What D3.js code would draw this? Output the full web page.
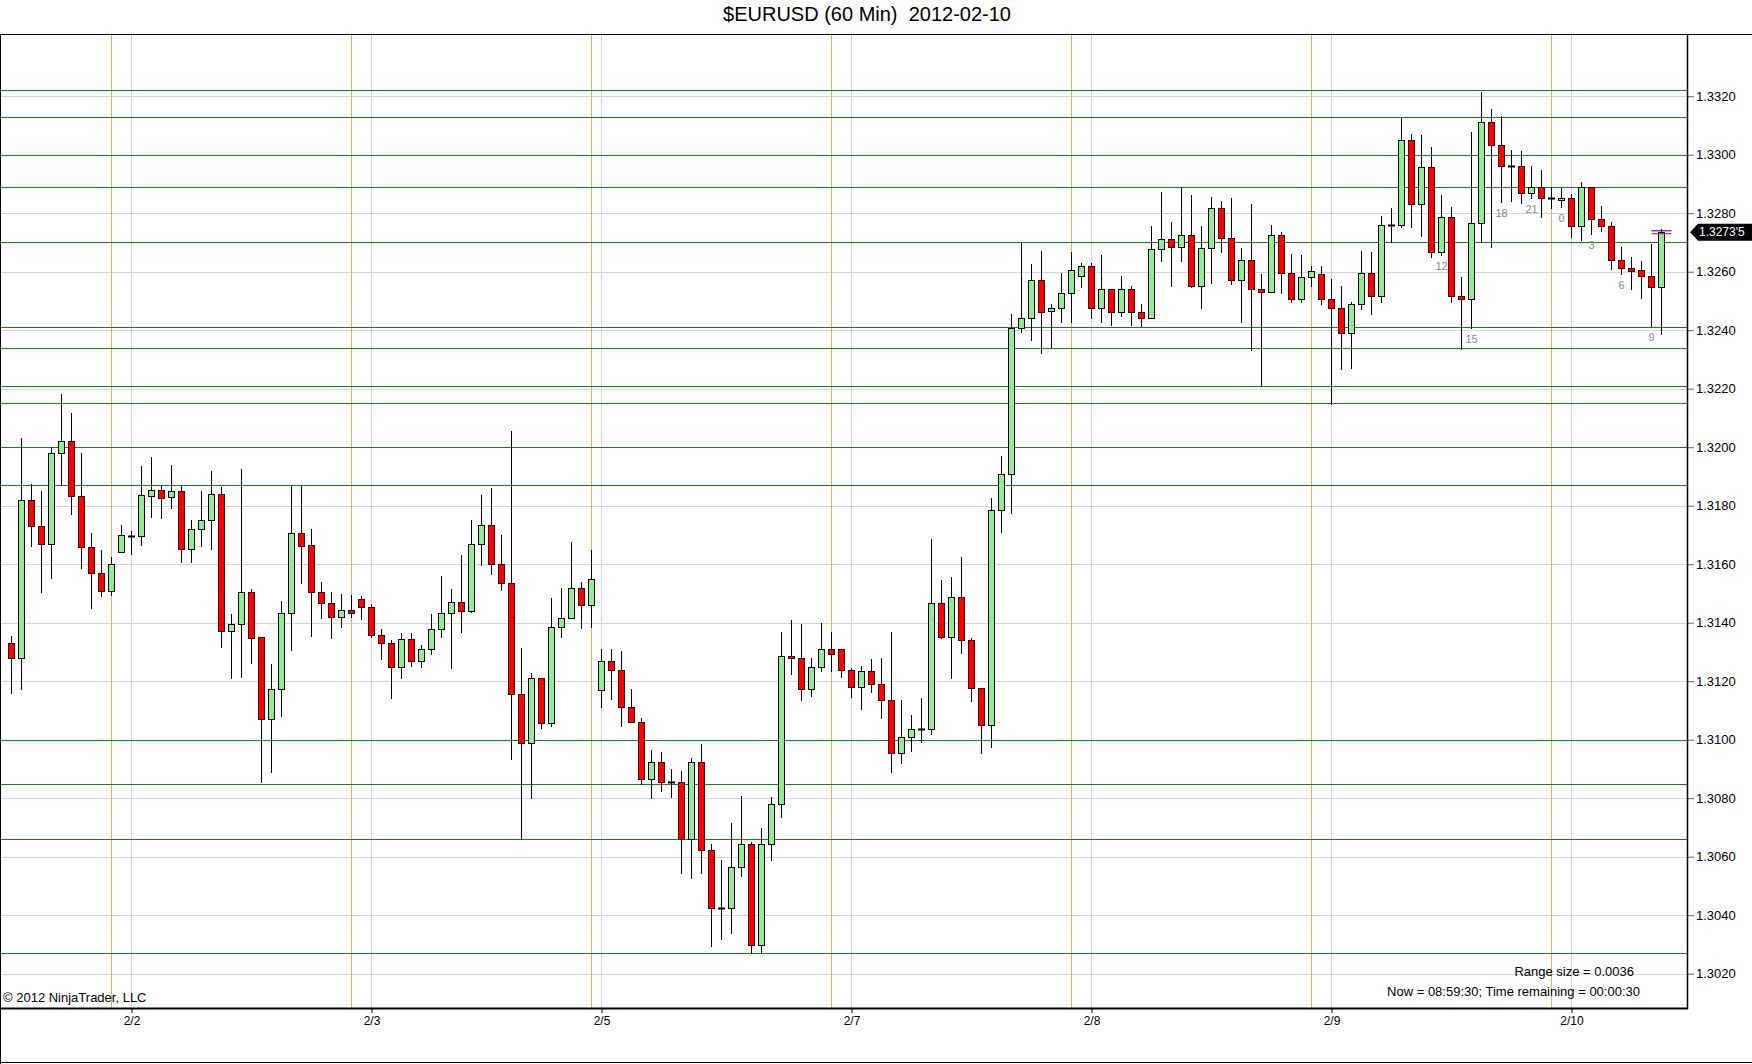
<!DOCTYPE html>
<html><head><meta charset="utf-8">
<script src="https://cdn.jsdelivr.net/npm/d3@7"></script>
<style>
body{margin:0;background:#fff;}
svg{display:block;font-family:"Liberation Sans",Arial,sans-serif;}
</style>
</head><body>
<svg id="c" width="1752" height="1064"></svg>
<script>
// ---- data (EURUSD 60 min bars) ----
const opens = [1.31330,1.31278,1.31820,1.31730,1.31668,1.31979,1.32020,1.31834,1.31658,1.31569,1.31508,1.31643,1.31698,1.31696,1.31834,1.31853,1.31829,1.31849,1.31653,1.31719,
1.31750,1.31840,1.31373,1.31395,1.31504,1.31350,1.31070,1.31172,1.31432,1.31706,1.31665,1.31506,1.31469,1.31419,1.31443,1.31480,1.31453,1.31357,1.31330,1.31248,
1.31343,1.31268,1.31309,1.31378,1.31432,1.31470,1.31441,1.31668,1.31733,1.31602,1.31537,1.31157,1.30988,1.31210,1.31058,1.31386,1.31415,1.31518,1.31460,1.31170,
1.31269,1.31237,1.31113,1.31062,1.30865,1.30923,1.30857,1.30857,1.30660,1.30923,1.30623,1.30425,1.30425,1.30566,1.30643,1.30297,1.30643,1.30779,1.31286,1.31278,
1.31172,1.31248,1.31309,1.31309,1.31237,1.31179,1.31234,1.31190,1.31135,1.30954,1.31010,1.31038,1.31037,1.31468,1.31351,1.31488,1.31341,1.31177,1.31050,1.31787,
1.31910,1.32406,1.32441,1.32572,1.32465,1.32475,1.32526,1.32584,1.32619,1.32475,1.32541,1.32461,1.32541,1.32461,1.32441,1.32677,1.32711,1.32684,1.32725,1.32551,
1.32680,1.32817,1.32714,1.32571,1.32639,1.32540,1.32530,1.32725,1.32595,1.32506,1.32581,1.32591,1.32506,1.32475,1.32390,1.32489,1.32595,1.32516,1.32759,1.32759,
1.33049,1.32830,1.32959,1.32666,1.32786,1.32516,1.32506,1.32768,1.33111,1.33032,1.32961,1.32961,1.32870,1.32891,1.32853,1.32844,1.32851,1.32755,1.32891,1.32779,
1.32757,1.32639,1.32612,1.32605,1.32584,1.32547];
const highs = [1.31355,1.32031,1.31873,1.31850,1.32002,1.32182,1.32116,1.31981,1.31706,1.31648,1.31624,1.31734,1.31714,1.31936,1.31967,1.31868,1.31939,1.31868,1.31751,1.31850,
1.31919,1.31864,1.31430,1.31926,1.31515,1.31350,1.31259,1.31473,1.31869,1.31869,1.31719,1.31538,1.31504,1.31498,1.31495,1.31491,1.31464,1.31378,1.31341,1.31364,
1.31364,1.31323,1.31430,1.31560,1.31515,1.31632,1.31751,1.31837,1.31860,1.31700,1.32056,1.31313,1.31227,1.31212,1.31484,1.31518,1.31675,1.31538,1.31649,1.31309,
1.31309,1.31303,1.31172,1.31073,1.30965,1.30957,1.30900,1.30893,1.30939,1.30985,1.30643,1.30589,1.30716,1.30808,1.30649,1.30697,1.30805,1.31367,1.31409,1.31396,
1.31278,1.31398,1.31367,1.31309,1.31244,1.31253,1.31275,1.31278,1.31367,1.31136,1.31085,1.31143,1.31685,1.31546,1.31556,1.31625,1.31348,1.31177,1.31825,1.31969,
1.32454,1.32698,1.32626,1.32671,1.32490,1.32595,1.32669,1.32629,1.32629,1.32657,1.32541,1.32585,1.32551,1.32490,1.32756,1.32872,1.32769,1.32891,1.32862,1.32756,
1.32855,1.32842,1.32851,1.32680,1.32830,1.32592,1.32759,1.32735,1.32661,1.32657,1.32621,1.32621,1.32575,1.32551,1.32496,1.32671,1.32666,1.32791,1.32818,1.33127,
1.33071,1.33068,1.33025,1.32862,1.32821,1.32581,1.33079,1.33216,1.33155,1.33132,1.33016,1.33013,1.32962,1.32948,1.32891,1.32885,1.32865,1.32908,1.32891,1.32825,
1.32771,1.32686,1.32649,1.32637,1.32695,1.32746];
const lows = [1.31161,1.31172,1.31663,1.31504,1.31554,1.31871,1.31773,1.31588,1.31451,1.31492,1.31495,1.31643,1.31636,1.31667,1.31763,1.31759,1.31793,1.31609,1.31609,1.31662,
1.31653,1.31318,1.31212,1.31216,1.31263,1.30855,1.30890,1.31081,1.31307,1.31537,1.31356,1.31415,1.31349,1.31386,1.31419,1.31414,1.31350,1.31277,1.31144,1.31210,
1.31253,1.31248,1.31292,1.31352,1.31244,1.31367,1.31438,1.31597,1.31567,1.31512,1.30935,1.30660,1.30800,1.31039,1.31048,1.31352,1.31415,1.31383,1.31386,1.31113,
1.31138,1.31048,1.31060,1.30848,1.30802,1.30826,1.30805,1.30543,1.30526,1.30545,1.30296,1.30318,1.30338,1.30535,1.30270,1.30272,1.30589,1.30737,1.31224,1.31136,
1.31151,1.31236,1.31236,1.31214,1.31147,1.31104,1.31162,1.31073,1.30889,1.30919,1.30963,1.30992,1.31018,1.31348,1.31211,1.31296,1.31132,1.30954,1.30974,1.31711,
1.31774,1.32394,1.32367,1.32323,1.32344,1.32429,1.32429,1.32549,1.32441,1.32429,1.32419,1.32450,1.32419,1.32415,1.32441,1.32638,1.32552,1.32638,1.32549,1.32477,
1.32563,1.32669,1.32559,1.32429,1.32331,1.32210,1.32530,1.32528,1.32498,1.32498,1.32552,1.32489,1.32148,1.32266,1.32270,1.32473,1.32455,1.32498,1.32701,1.32754,
1.32754,1.32723,1.32649,1.32657,1.32498,1.32335,1.32407,1.32701,1.32684,1.32839,1.32843,1.32834,1.32851,1.32788,1.32819,1.32822,1.32720,1.32709,1.32729,1.32740,
1.32610,1.32591,1.32540,1.32509,1.32415,1.32386];
const closes = [1.31278,1.31820,1.31730,1.31668,1.31979,1.32020,1.31834,1.31658,1.31569,1.31508,1.31600,1.31699,1.31698,1.31836,1.31853,1.31828,1.31849,1.31653,1.31719,1.31751,
1.31840,1.31373,1.31396,1.31504,1.31349,1.31070,1.31172,1.31432,1.31706,1.31663,1.31506,1.31469,1.31419,1.31443,1.31432,1.31453,1.31357,1.31330,1.31248,1.31343,
1.31268,1.31309,1.31378,1.31432,1.31470,1.31441,1.31668,1.31733,1.31602,1.31537,1.31157,1.30988,1.31210,1.31058,1.31386,1.31415,1.31518,1.31460,1.31549,1.31269,
1.31237,1.31113,1.31062,1.30865,1.30923,1.30857,1.30857,1.30660,1.30923,1.30623,1.30424,1.30425,1.30566,1.30643,1.30297,1.30643,1.30779,1.31285,1.31278,1.31172,
1.31248,1.31309,1.31292,1.31237,1.31179,1.31234,1.31190,1.31135,1.30954,1.31010,1.31037,1.31038,1.31468,1.31351,1.31488,1.31341,1.31177,1.31050,1.31787,1.31910,
1.32406,1.32441,1.32572,1.32463,1.32475,1.32526,1.32606,1.32619,1.32475,1.32541,1.32461,1.32541,1.32461,1.32441,1.32677,1.32711,1.32684,1.32725,1.32551,1.32680,
1.32817,1.32714,1.32571,1.32639,1.32540,1.32530,1.32725,1.32595,1.32506,1.32581,1.32602,1.32506,1.32475,1.32390,1.32489,1.32595,1.32516,1.32759,1.32759,1.33049,
1.32830,1.32959,1.32666,1.32786,1.32516,1.32506,1.32768,1.33111,1.33032,1.32961,1.32961,1.32870,1.32891,1.32851,1.32853,1.32851,1.32755,1.32891,1.32779,1.32757,
1.32639,1.32612,1.32604,1.32584,1.32547,1.32735];

const dayLabels = ["2/2","2/3","2/5","2/7","2/8","2/9","2/10"];
const dayLabelBars = [12,36,59,84,108,132,156];
const sessionBreakBars = [10,34,58,82,106,130,154];
const levelLines = [1.3322,1.3313,1.3300,1.3289,1.3270,1.3241,1.3234,1.3221,1.3215,1.3200,1.3187,1.3100,1.3085,1.3066,1.3027];
const yTicks = [1.3020,1.3040,1.3060,1.3080,1.3100,1.3120,1.3140,1.3160,1.3180,1.3200,1.3220,1.3240,1.3260,1.3280,1.3300,1.3320];
const counterLabels = ["12","15","18","21","0","3","6","9"];
const counterBars = [143,146,149,152,155,158,161,164];
const lastPrice = 1.32735;
const lastPriceText = "1.3273'5";
const bidPrice = 1.32740, askPrice = 1.32735;
const titleText = "$EURUSD (60 Min)  2012-02-10";
const copyrightText = "\u00A9 2012 NinjaTrader, LLC";
const rangeText = "Range size = 0.0036";
const nowText = "Now = 08:59:30; Time remaining = 00:00:30";

// ---- drawing ----
const W = 1752, H = 1064;
const plot = {left:0, right:1687, top:34.5, bottom:1008};
const svg = d3.select("#c");
const n = opens.length;
const x = d3.scaleLinear().domain([0, n-1]).range([11.5, 11.5 + 10*(n-1)]);
const y = d3.scaleLinear().domain([1.3020, 1.3320]).range([973.7, 96.2]);
const py = v => Math.round(y(v)) + 0.5;

svg.append("rect").attr("width",W).attr("height",H).attr("fill","#fff");

// horizontal grid
svg.append("g").selectAll("line").data(yTicks).join("line")
  .attr("x1",plot.left).attr("x2",plot.right).attr("y1",d=>py(d)).attr("y2",d=>py(d))
  .attr("stroke","#d4d4d4").attr("stroke-width",1);
// vertical grid at day labels
svg.append("g").selectAll("line").data(dayLabelBars).join("line")
  .attr("x1",d=>x(d)).attr("x2",d=>x(d)).attr("y1",plot.top).attr("y2",plot.bottom)
  .attr("stroke","#d4d4d4").attr("stroke-width",1);
// session breaks
svg.append("g").selectAll("line").data(sessionBreakBars).join("line")
  .attr("x1",d=>x(d)).attr("x2",d=>x(d)).attr("y1",plot.top).attr("y2",plot.bottom)
  .attr("stroke","#eeb433").attr("stroke-width",1);
// level lines
svg.append("g").selectAll("line").data(levelLines).join("line")
  .attr("x1",plot.left).attr("x2",plot.right).attr("y1",d=>py(d)).attr("y2",d=>py(d))
  .attr("stroke","#177f17").attr("stroke-width",1.2);

// candles
const idx = d3.range(n);
const cg = svg.append("g");
cg.selectAll("line.w").data(idx).join("line").attr("class","w")
  .attr("x1",i=>x(i)).attr("x2",i=>x(i))
  .attr("y1",i=>Math.round(y(highs[i]))).attr("y2",i=>Math.round(y(lows[i]))+1)
  .attr("stroke","#000").attr("stroke-width",1);
cg.selectAll("rect.b").data(idx.filter(i=>opens[i]!==closes[i])).join("rect").attr("class","b")
  .attr("x",i=>x(i)-3).attr("width",6)
  .attr("y",i=>py(Math.max(opens[i],closes[i])))
  .attr("height",i=>Math.max(1, py(Math.min(opens[i],closes[i])) - py(Math.max(opens[i],closes[i]))))
  .attr("fill",i=>closes[i]>opens[i] ? "#90ee90" : "#ff0000")
  .attr("stroke",i=>closes[i]>opens[i] ? "#000" : "#400000").attr("stroke-width",1);
cg.selectAll("line.d").data(idx.filter(i=>opens[i]===closes[i])).join("line").attr("class","d")
  .attr("x1",i=>x(i)-3.5).attr("x2",i=>x(i)+3.5)
  .attr("y1",i=>py(opens[i])).attr("y2",i=>py(opens[i]))
  .attr("stroke","#000").attr("stroke-width",2);

// counters
svg.append("g").selectAll("text").data(counterBars).join("text")
  .attr("x",i=>x(i)).attr("y",i=>y(lows[i])+12)
  .attr("text-anchor","middle").attr("dominant-baseline","middle")
  .attr("font-size",11).attr("fill","#8a8a8a")
  .text((d,k)=>counterLabels[k]);

// bid / ask marks on last bar
svg.append("line").attr("x1",x(n-1)-10).attr("x2",x(n-1)+10).attr("y1",y(bidPrice)).attr("y2",y(bidPrice))
  .attr("stroke","#2020e0").attr("stroke-width",1.2);
svg.append("line").attr("x1",x(n-1)-10).attr("x2",x(n-1)+10).attr("y1",y(askPrice)+1.5).attr("y2",y(askPrice)+1.5)
  .attr("stroke","#e02020").attr("stroke-width",1.2);

// axes
const yAxis = d3.axisRight(y).tickValues(yTicks).tickFormat(d3.format(".4f")).tickSize(7).tickPadding(2);
const ya = svg.append("g").attr("transform",`translate(${plot.right},0)`).call(yAxis);
ya.select(".domain").remove();
ya.selectAll("text").attr("font-size",13).attr("font-family","Liberation Sans, Arial, sans-serif").attr("fill","#000");
ya.selectAll("line").attr("stroke","#666");

const xAxis = d3.axisBottom(x).tickValues(dayLabelBars).tickFormat((d,k)=>dayLabels[k]).tickSize(5).tickPadding(3);
const xa = svg.append("g").attr("transform",`translate(0,${plot.bottom})`).call(xAxis);
xa.select(".domain").remove();
xa.selectAll("text").attr("font-size",12).attr("font-family","Liberation Sans, Arial, sans-serif").attr("fill","#000");
xa.selectAll("line").attr("stroke","#000");

// frame lines
svg.append("line").attr("x1",0).attr("x2",W).attr("y1",plot.top).attr("y2",plot.top).attr("stroke","#000");
svg.append("line").attr("x1",plot.right+0.5).attr("x2",plot.right+0.5).attr("y1",plot.top).attr("y2",plot.bottom+1).attr("stroke","#000").attr("stroke-width",1.5);
svg.append("line").attr("x1",0).attr("x2",plot.right+1).attr("y1",plot.bottom+0.5).attr("y2",plot.bottom+0.5).attr("stroke","#000").attr("stroke-width",2);
svg.append("line").attr("x1",0.5).attr("x2",0.5).attr("y1",plot.top).attr("y2",H).attr("stroke","#000");
svg.append("line").attr("x1",0).attr("x2",W).attr("y1",H-1.5).attr("y2",H-1.5).attr("stroke","#000");

// last price marker
const ly = y(lastPrice);
svg.append("path")
  .attr("d",`M${plot.right+3},${ly} L${plot.right+11},${ly-8.5} L${W},${ly-8.5} L${W},${ly+8.5} L${plot.right+11},${ly+8.5} Z`)
  .attr("fill","#000");
svg.append("text").attr("x",plot.right+12).attr("y",ly+0.5).attr("dominant-baseline","middle")
  .attr("font-size",12).attr("fill","#fff").text(lastPriceText);

// texts
svg.append("text").attr("x",867).attr("y",16).attr("text-anchor","middle").attr("dominant-baseline","middle")
  .attr("font-size",20).attr("fill","#000").style("white-space","pre").text(titleText);
svg.append("text").attr("x",3).attr("y",999).attr("dominant-baseline","middle")
  .attr("font-size",13).attr("fill","#000").text(copyrightText);
svg.append("text").attr("x",1634).attr("y",973).attr("text-anchor","end").attr("dominant-baseline","middle")
  .attr("font-size",13).attr("fill","#000").text(rangeText);
svg.append("text").attr("x",1640).attr("y",993).attr("text-anchor","end").attr("dominant-baseline","middle")
  .attr("font-size",13).attr("fill","#000").text(nowText);
</script>
</body></html>
